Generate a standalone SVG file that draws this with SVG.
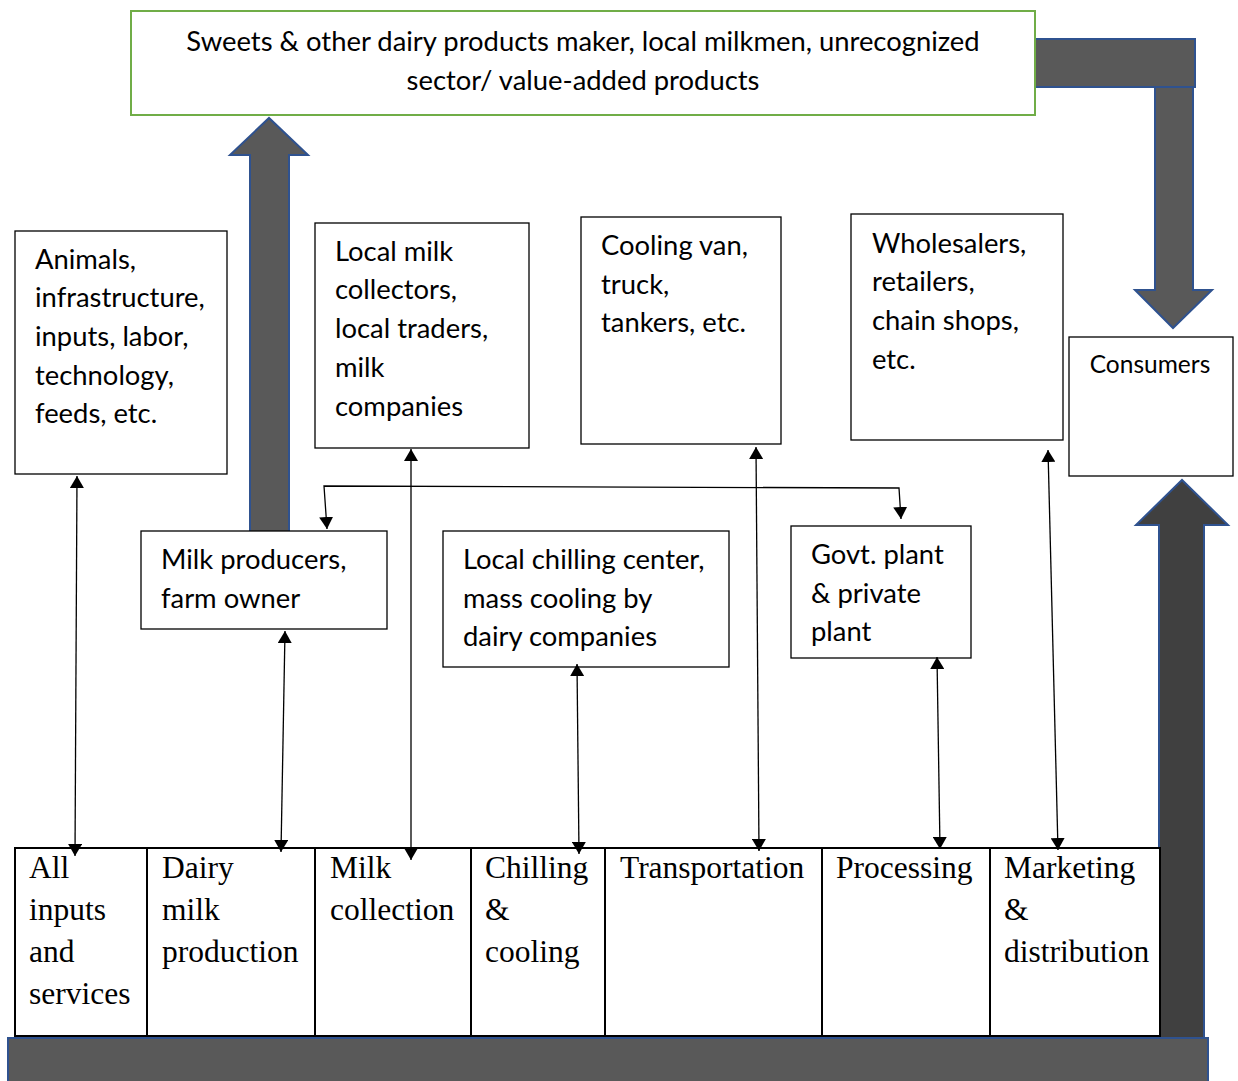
<svg xmlns="http://www.w3.org/2000/svg" width="1238" height="1081" viewBox="0 0 1238 1081">
<defs>
<style>
.box{fill:#fff;stroke:#000;stroke-width:1.3}
.sans{font-family:Lato,"Liberation Sans",sans-serif;font-size:27.4px;fill:#000}
.serif{font-family:"Liberation Serif","Times New Roman",serif;font-size:31.5px;fill:#000}
.big{fill:#595959;stroke:#2F528F;stroke-width:2}
.dark{fill:#404040;stroke:#2F528F;stroke-width:2}
.conn{fill:none;stroke:#000;stroke-width:1.3}
</style>
<marker id="ah" viewBox="0 0 12 14" refX="12" refY="7" markerWidth="12" markerHeight="14" markerUnits="userSpaceOnUse" orient="auto-start-reverse">
<path d="M0,0 L12,7 L0,14 Z" fill="#000"/>
</marker>
</defs>
<rect width="1238" height="1081" fill="#fff"/>

<g id="bigarrows">
<rect class="big" x="1035" y="39" width="160" height="48"/>
<polygon class="big" points="1155,87 1193,87 1193,290 1212,290 1173,328 1135,290 1155,290"/>
<polygon class="big" points="250,533 289,533 289,155 308,155 269,118 230,155 250,155"/>
<polygon class="dark" points="1159,1040 1204,1040 1204,525 1228,525 1182,480 1136,525 1159,525"/>
<rect class="big" x="8" y="1038" width="1200" height="50"/>
</g>

<g id="top">
<rect x="131" y="11" width="904" height="104" fill="#fff" stroke="#70AD47" stroke-width="2"/>
<text class="sans" x="583" y="51" text-anchor="middle">Sweets &amp; other dairy products maker, local milkmen, unrecognized</text>
<text class="sans" x="583" y="90" text-anchor="middle">sector/ value-added products</text>
</g>

<g id="animals">
<rect class="box" x="15" y="231" width="212" height="243"/>
<text class="sans"><tspan x="35" y="269">Animals,</tspan><tspan x="35" y="307">infrastructure,</tspan><tspan x="35" y="346">inputs, labor,</tspan><tspan x="35" y="385">technology,</tspan><tspan x="35" y="423">feeds, etc.</tspan></text>
</g>

<g id="collectors">
<rect class="box" x="315" y="223" width="214" height="225"/>
<text class="sans"><tspan x="335" y="261">Local milk</tspan><tspan x="335" y="299">collectors,</tspan><tspan x="335" y="338">local traders,</tspan><tspan x="335" y="377">milk</tspan><tspan x="335" y="416">companies</tspan></text>
</g>

<g id="cooling">
<rect class="box" x="581" y="217" width="200" height="227"/>
<text class="sans"><tspan x="601" y="255">Cooling van,</tspan><tspan x="601" y="294">truck,</tspan><tspan x="601" y="332">tankers, etc.</tspan></text>
</g>

<g id="wholesalers">
<rect class="box" x="851" y="214" width="212" height="226"/>
<text class="sans"><tspan x="872" y="253">Wholesalers,</tspan><tspan x="872" y="291">retailers,</tspan><tspan x="872" y="330">chain shops,</tspan><tspan x="872" y="369">etc.</tspan></text>
</g>

<g id="consumers">
<rect class="box" x="1069" y="337" width="164" height="139"/>
<text class="sans" x="1150" y="373" text-anchor="middle" style="font-size:24.5px">Consumers</text>
</g>

<g id="producers">
<rect class="box" x="141" y="531" width="246" height="98"/>
<text class="sans"><tspan x="161" y="569">Milk producers,</tspan><tspan x="161" y="608">farm owner</tspan></text>
</g>

<g id="chilling">
<rect class="box" x="443" y="531" width="286" height="136"/>
<text class="sans"><tspan x="463" y="569">Local chilling center,</tspan><tspan x="463" y="608">mass cooling by</tspan><tspan x="463" y="646">dairy companies</tspan></text>
</g>

<g id="plant">
<rect class="box" x="791" y="526" width="180" height="132"/>
<text class="sans"><tspan x="811" y="564">Govt. plant</tspan><tspan x="811" y="603">&amp; private</tspan><tspan x="811" y="641">plant</tspan></text>
</g>

<g id="stages">
<rect x="15" y="848" width="1145" height="188" fill="#fff" stroke="#000" stroke-width="2"/>
<g stroke="#000" stroke-width="2">
<line x1="147" y1="848" x2="147" y2="1036"/>
<line x1="315" y1="848" x2="315" y2="1036"/>
<line x1="471" y1="848" x2="471" y2="1036"/>
<line x1="605" y1="848" x2="605" y2="1036"/>
<line x1="822" y1="848" x2="822" y2="1036"/>
<line x1="990" y1="848" x2="990" y2="1036"/>
</g>
<text class="serif"><tspan x="29" y="878">All</tspan><tspan x="29" y="920">inputs</tspan><tspan x="29" y="962">and</tspan><tspan x="29" y="1004">services</tspan></text>
<text class="serif"><tspan x="162" y="878">Dairy</tspan><tspan x="162" y="920">milk</tspan><tspan x="162" y="962">production</tspan></text>
<text class="serif"><tspan x="330" y="878">Milk</tspan><tspan x="330" y="920">collection</tspan></text>
<text class="serif"><tspan x="485" y="878">Chilling</tspan><tspan x="485" y="920">&amp;</tspan><tspan x="485" y="962">cooling</tspan></text>
<text class="serif" x="620" y="878">Transportation</text>
<text class="serif" x="836" y="878">Processing</text>
<text class="serif"><tspan x="1004" y="878">Marketing</tspan><tspan x="1004" y="920">&amp;</tspan><tspan x="1004" y="962">distribution</tspan></text>
</g>

<g id="connectors" class="conn">
<line x1="77" y1="476" x2="75" y2="856" marker-start="url(#ah)" marker-end="url(#ah)"/>
<line x1="285" y1="631" x2="281" y2="852" marker-start="url(#ah)" marker-end="url(#ah)"/>
<line x1="411" y1="449" x2="411" y2="860" marker-start="url(#ah)" marker-end="url(#ah)"/>
<line x1="577" y1="664" x2="579" y2="854" marker-start="url(#ah)" marker-end="url(#ah)"/>
<line x1="756" y1="447" x2="759" y2="851" marker-start="url(#ah)" marker-end="url(#ah)"/>
<line x1="937" y1="657" x2="940" y2="849" marker-start="url(#ah)" marker-end="url(#ah)"/>
<line x1="1048" y1="450" x2="1058" y2="850" marker-start="url(#ah)" marker-end="url(#ah)"/>
<polyline points="327,529 324,486 899,488 901,519" marker-start="url(#ah)" marker-end="url(#ah)"/>
</g>
</svg>
